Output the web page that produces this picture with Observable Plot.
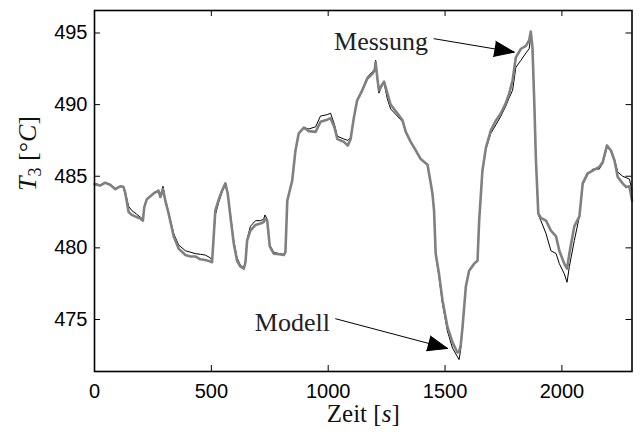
<!DOCTYPE html>
<html><head><meta charset="utf-8">
<script src="https://cdn.jsdelivr.net/npm/d3@7"></script>
<script src="https://cdn.jsdelivr.net/npm/@observablehq/plot@0.6"></script>
<style>html,body{margin:0;padding:0;background:#fff}#chart svg{display:block}</style>
</head><body><div id="chart"></div>
<script>
const zeit = [0,24,46,67,89,110,124,132,146,160,180,196,207,213,224,253,274,282,293,303,317,339,360,389,410,431,453,474,496,503,517,532,546,560,570,582,596,610,624,639,646,653,667,689,710,724,729,739,750,767,790,810,817,825,846,860,874,896,917,946,967,996,1010,1027,1039,1067,1084,1096,1110,1124,1146,1167,1189,1199,1203,1210,1217,1227,1239,1253,1267,1296,1318,1332,1353,1375,1396,1425,1439,1446,1453,1460,1474,1489,1510,1532,1553,1560,1567,1575,1589,1603,1625,1639,1646,1660,1675,1696,1718,1739,1760,1775,1789,1803,1825,1846,1860,1867,1874,1882,1889,1899,1910,1932,1953,1975,1989,2010,2022,2032,2053,2075,2089,2110,2132,2160,2175,2193,2210,2225,2239,2260,2275,2289,2300];
const messung = [484.45,484.35,484.55,484.4,484.1,484.3,484.25,483.8,482.5,482.3,482.15,482.05,481.9,482.85,483.4,483.8,484.0,483.55,484.1,483.3,482.4,480.8,479.95,479.5,479.4,479.4,479.2,479.15,479.05,479.0,482.6,483.4,484.0,484.5,483.8,482.15,480.3,479.1,478.7,478.55,479.0,480.5,481.2,481.6,481.7,481.8,482.0,481.9,480.1,479.6,479.55,479.5,479.7,483.3,484.7,486.8,488.0,488.4,488.15,488.1,488.8,488.95,489.05,488.4,487.6,487.4,487.15,487.6,489.1,490.3,491.0,491.8,492.15,492.4,492.96,491.9,491.0,491.3,491.6,490.8,490.0,489.4,488.9,488.1,487.4,486.8,486.2,485.8,484.5,483.8,482.6,479.6,478.2,476.35,474.5,473.4,472.7,472.75,473.2,474.5,477.3,478.4,478.9,479.1,481.9,485.4,487.0,488.2,488.9,489.4,490.1,490.8,491.7,493.3,493.9,494.1,494.5,495.1,494.0,490.1,486.1,482.4,482.1,481.9,481.2,480.8,479.8,478.9,478.55,479.6,481.5,482.2,484.5,485.2,485.4,485.65,486.0,487.15,486.8,486.1,484.95,484.5,484.25,484.3,483.3];
const modell = [484.5,484.4,484.55,484.45,484.15,484.3,484.3,483.9,482.9,482.6,482.35,482.15,482.0,482.85,483.4,483.85,484.0,483.6,484.3,483.4,482.5,481.0,480.2,479.8,479.7,479.6,479.55,479.5,479.3,479.1,482.3,483.2,483.9,484.4,483.8,482.3,480.5,479.3,478.8,478.6,479.1,480.6,481.5,481.9,481.9,482.0,482.3,482.0,480.2,479.7,479.6,479.55,479.7,483.3,484.7,486.8,488.0,488.4,488.3,488.45,489.2,489.3,489.4,488.6,487.8,487.6,487.5,487.7,489.1,490.3,491.1,491.9,492.3,492.5,493.1,491.8,490.8,491.2,491.5,490.4,489.7,489.2,488.8,488.1,487.4,486.8,486.2,485.8,484.5,483.8,482.6,479.5,478.0,476.1,474.2,473.0,472.4,472.2,472.9,474.4,477.3,478.4,478.9,479.1,481.9,485.3,486.9,488.0,488.6,489.2,489.9,490.5,491.0,492.6,493.1,493.6,493.9,494.8,494.0,490.1,486.1,482.3,481.9,481.0,479.8,479.6,478.9,478.2,477.6,478.7,480.5,482.2,484.4,485.1,485.5,485.5,485.9,487.0,486.8,486.2,485.3,485.0,484.9,484.8,484.0];
const xTicks = [0,500,1000,1500,2000];
const yTicks = [475,480,485,490,495];
const xDomain = [0,2300];
const yDomain = [471.37,496.57];
const xLabel = "Zeit [s]";
const yLabel = "T3 [°C]";
const annoText = ["Messung","Modell"];
const annoX = [1025,686];
const annoY = [493.83,474.18];
const arrowX1 = [1453,1032];
const arrowY1 = [494.6,475.05];
const arrowX2 = [1796,1511];
const arrowY2 = [493.66,472.98];

const rows = zeit.map((t,i)=>({t, messung: messung[i], modell: modell[i]}));
const annos = annoText.map((s,i)=>({s, x: annoX[i], y: annoY[i]}));
const arrows = arrowX1.map((x1,i)=>({x1, y1: arrowY1[i], x2: arrowX2[i], y2: arrowY2[i]}));

const W=640,H=432,mL=94,mR=8.5,mT=10,mB=61;
const innerW=W-mL-mR, innerH=H-mT-mB, tl=6;
const serif = "'Liberation Serif', 'Times New Roman', serif";

const chart = Plot.plot({
  width: W, height: H, marginLeft: mL, marginRight: mR, marginTop: mT, marginBottom: mB,
  x: {domain: xDomain}, y: {domain: yDomain},
  style: {fontFamily: "'Liberation Sans', Arial, sans-serif", background: "#fff", color: "#000"},
  marks: [
    Plot.line(rows, {x: "t", y: "modell", stroke: "#000", strokeWidth: 1}),
    Plot.line(rows, {x: "t", y: "messung", stroke: "#808080", strokeWidth: 2.6}),
    Plot.tickX(xTicks, {x: d=>d, insetTop: innerH-tl, stroke: "#000"}),
    Plot.tickX(xTicks, {x: d=>d, insetBottom: innerH-tl, stroke: "#000"}),
    Plot.tickY(yTicks, {y: d=>d, insetRight: innerW-tl, stroke: "#000"}),
    Plot.tickY(yTicks, {y: d=>d, insetLeft: innerW-tl, stroke: "#000"}),
    Plot.frame({stroke: "#000", strokeWidth: 1.6}),
    Plot.axisX({ticks: xTicks, tickSize: 0, tickPadding: 12, fontSize: 20, tickFormat: d3.format("d"), label: null}),
    Plot.axisY({ticks: yTicks, tickSize: 0, tickPadding: 7, fontSize: 20, tickFormat: d3.format("d"), label: null}),
    Plot.text([xLabel], {frameAnchor: "bottom", dy: 50, lineAnchor: "bottom", fontFamily: serif, fontSize: 25, fill: "#111"}),
    Plot.text([yLabel], {frameAnchor: "left", dx: -59, rotate: -90, lineAnchor: "bottom", fontFamily: serif, fontSize: 26, fill: "#111"}),
    Plot.arrow(arrows, {x1: "x1", y1: "y1", x2: "x2", y2: "y2", stroke: "#000", strokeWidth: 1, headLength: 32, headAngle: 42, strokeLinejoin: "miter"}),
    Plot.text(annos, {x: "x", y: "y", text: "s", textAnchor: "start", lineAnchor: "bottom", fontFamily: serif, fontSize: 26, fill: "#222"})
  ]
});
document.getElementById("chart").appendChild(chart);

// filled arrow heads
chart.querySelectorAll('g[aria-label="arrow"]').forEach(g => {
  g.setAttribute("fill", "#000");
  g.querySelectorAll("path").forEach(p => { p.setAttribute("fill", "#000"); p.style.fill = "#000"; });
});

// rich formatting for axis labels (italic variables, subscript)
function rich(el, parts){
  el.textContent = "";
  const ns = "http://www.w3.org/2000/svg";
  for (const p of parts){
    const ts = document.createElementNS(ns, "tspan");
    ts.textContent = p.t;
    if (p.i) ts.setAttribute("font-style", "italic");
    if (p.sub){ ts.setAttribute("font-size", "18"); ts.setAttribute("dy", "5"); }
    if (p.up) ts.setAttribute("dy", "-5");
    el.appendChild(ts);
  }
}
chart.querySelectorAll("text").forEach(el => {
  if (el.textContent === yLabel) rich(el, [{t:"T", i:true},{t:"3", sub:true},{t:" [°", up:true},{t:"C", i:true},{t:"]"}]);
  else if (el.textContent === xLabel) rich(el, [{t:"Zeit ["},{t:"s", i:true},{t:"]"}]);
});
</script>
</body></html>
